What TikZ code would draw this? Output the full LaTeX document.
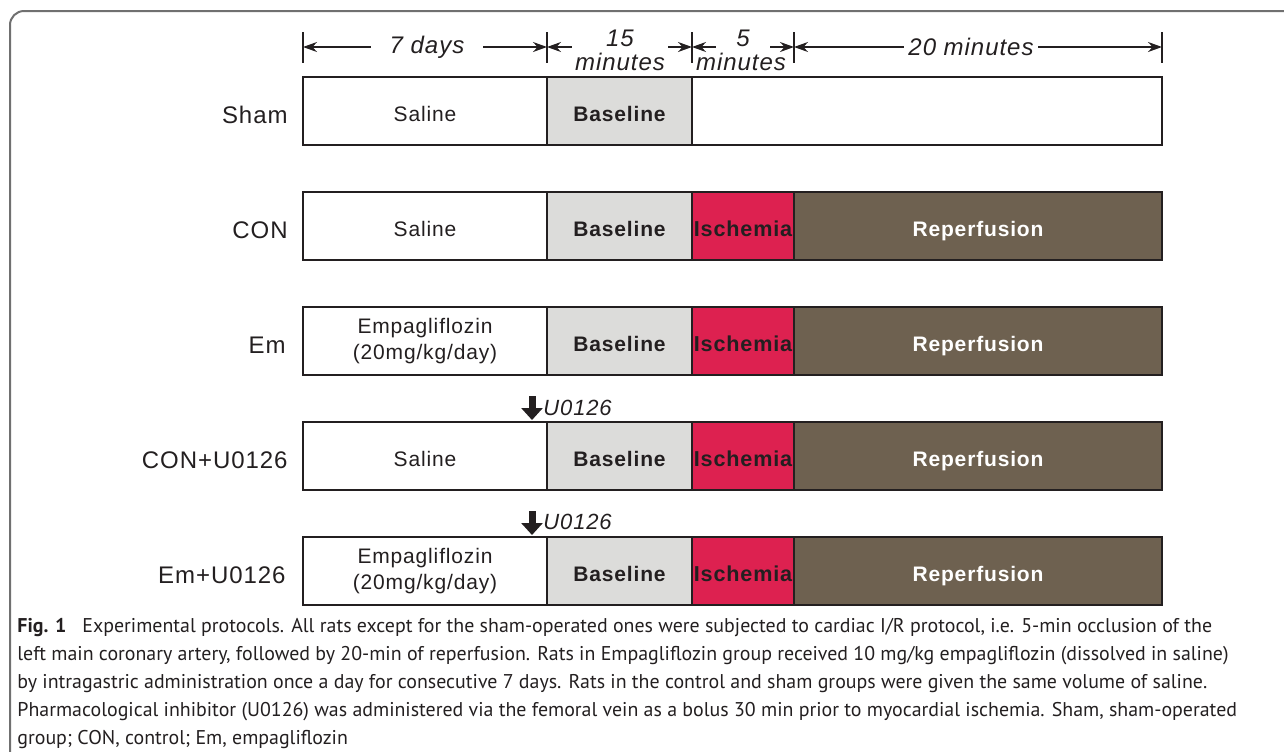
\documentclass[tikz,border=0pt]{standalone}
\usepackage{fontspec}
\setmainfont{Liberation Sans}
\newfontfamily\spaced[LetterSpace=4]{Liberation Sans}
\newfontfamily\capfont{PT Sans}
\usetikzlibrary{arrows.meta}

\definecolor{ink}{HTML}{231F20}
\definecolor{basegray}{HTML}{DCDCDA}
\definecolor{ischred}{HTML}{DD2150}
\definecolor{repbrown}{HTML}{6E6150}
\definecolor{framegray}{HTML}{707070}

\tikzset{
  box/.style={draw=ink, line width=1.2pt, minimum height=34pt, inner sep=0pt,
    text=ink, align=center, font=\spaced\fontsize{10.5}{13}\selectfont},
  salbox/.style={box, fill=white, minimum width=122pt},
  onerow/.style={text height=10pt, text depth=0pt},
  basebox/.style={box, onerow, fill=basegray, minimum width=72.5pt,
    font=\spaced\bfseries\fontsize{10.5}{13}\selectfont},
  ischbox/.style={box, onerow, fill=ischred, minimum width=51pt,
    font=\spaced\bfseries\fontsize{10.8}{13}\selectfont},
  repbox/.style={box, onerow, fill=repbrown, minimum width=184pt, text=white,
    font=\spaced\bfseries\fontsize{10.5}{13}\selectfont},
  rowlab/.style={anchor=east, text=ink, inner sep=0pt,
    font=\spaced\fontsize{12}{14}\selectfont},
  gaplab/.style={fill=white, text=ink, inner sep=0pt, minimum height=12pt,
    font=\spaced\itshape\fontsize{12}{14}\selectfont},
  minlab/.style={text=ink, inner sep=0pt,
    font=\spaced\itshape\fontsize{12}{14}\selectfont},
  dimline/.style={draw=ink, line width=0.8pt, {Stealth[length=7pt,width=5pt]}-{Stealth[length=7pt,width=5pt]}},
  tick/.style={draw=ink, line width=1pt},
  downarrow/.style={draw=ink, line width=3.5pt, -{Triangle[length=6pt,width=10.5pt]}},
  inhib/.style={anchor=west, text=ink, inner sep=0pt,
    font=\spaced\itshape\fontsize{11}{13}\selectfont},
}

\begin{document}
\begin{tikzpicture}[x=0.5pt,y=-0.5pt]
\useasboundingbox (0,0) rectangle (1284,751);

% frame
\draw[framegray, line width=1pt, rounded corners=7pt] (10,760) -- (10,11) -- (1300,11);

% time scale
\coordinate (t0) at (303,47);
\coordinate (t1) at (547,47);
\coordinate (t2) at (692,47);
\coordinate (t3) at (794,47);
\coordinate (t4) at (1162,47);
\foreach \t in {t0,t1,t2,t3,t4}
  \draw[tick] (\t) ++(0,-15) -- ++(0,31);
\draw[dimline] (t0) -- (t1);
\draw[dimline] (t1) -- (t2);
\draw[dimline] (t2) -- (t3);
\draw[dimline] (t3) -- (t4);
\node[gaplab, minimum width=56pt] (lab7) at (427,47) {7 days};
\node[gaplab, minimum width=48pt] (lab15) at (620,38) {15};
\node[minlab] (min15) at (620,62) {minutes};
\node[gaplab, minimum width=27pt] (lab5) at (743,38) {5};
\node[minlab] (min5) at (741,62) {minutes};
\node[gaplab, minimum width=67pt] (lab20) at (971,47) {20 minutes};

% Sham
\node[rowlab] (sham) at (288,115) {Sham};
\node[salbox, onerow] (sal1) at (425,111) {Saline};
\node[basebox] (base1) at (619.5,111) {Baseline};
\node[box, minimum width=235pt] (blank1) at (927,111) {};

% CON
\node[rowlab] (con) at (288,230) {CON};
\node[salbox, onerow] (sal2) at (425,226) {Saline};
\node[basebox] (base2) at (619.5,226) {Baseline};
\node[ischbox] (isch2) at (743,226) {Ischemia};
\node[repbox] (rep2) at (978,226) {Reperfusion};

% Em
\node[rowlab] (em) at (286,345) {Em};
\node[salbox] (sal3) at (425,341) {Empagliflozin\\(20mg/kg/day)};
\node[basebox] (base3) at (619.5,341) {Baseline};
\node[ischbox] (isch3) at (743,341) {Ischemia};
\node[repbox] (rep3) at (978,341) {Reperfusion};

% CON+U0126
\node[rowlab] (conu) at (288,460) {CON+U0126};
\node[salbox, onerow] (sal4) at (425,456) {Saline};
\node[basebox] (base4) at (619.5,456) {Baseline};
\node[ischbox] (isch4) at (743,456) {Ischemia};
\node[repbox] (rep4) at (978,456) {Reperfusion};
\coordinate (d4) at (532,396);
\coordinate (d4tip) at (532,420);
\draw[downarrow] (d4) -- (d4tip);
\node[inhib] (inh4) at (543,408) {U0126};

% Em+U0126
\node[rowlab] (emu) at (286,575) {Em+U0126};
\node[salbox] (sal5) at (425,571) {Empagliflozin\\(20mg/kg/day)};
\node[basebox] (base5) at (619.5,571) {Baseline};
\node[ischbox] (isch5) at (743,571) {Ischemia};
\node[repbox] (rep5) at (978,571) {Reperfusion};
\coordinate (d5) at (532,511);
\coordinate (d5tip) at (532,535);
\draw[downarrow] (d5) -- (d5tip);
\node[inhib] (inh5) at (543,522) {U0126};

% caption
\node[anchor=north west, inner sep=0pt, align=left, text=ink,
  font=\capfont\fontsize{9.95}{14}\selectfont] (cap) at (17,618)
  {\textbf{Fig. 1}\hspace{8pt}Experimental protocols. All rats except for the sham-operated ones were subjected to cardiac I/R protocol, i.e. 5-min occlusion of the\\
   left main coronary artery, followed by 20-min of reperfusion. Rats in Empagliflozin group received 10 mg/kg empagliflozin (dissolved in saline)\\
   by intragastric administration once a day for consecutive 7 days. Rats in the control and sham groups were given the same volume of saline.\\
   Pharmacological inhibitor (U0126) was administered via the femoral vein as a bolus 30 min prior to myocardial ischemia. Sham, sham-operated\\
   group; CON, control; Em, empagliflozin};
\end{tikzpicture}
\end{document}
